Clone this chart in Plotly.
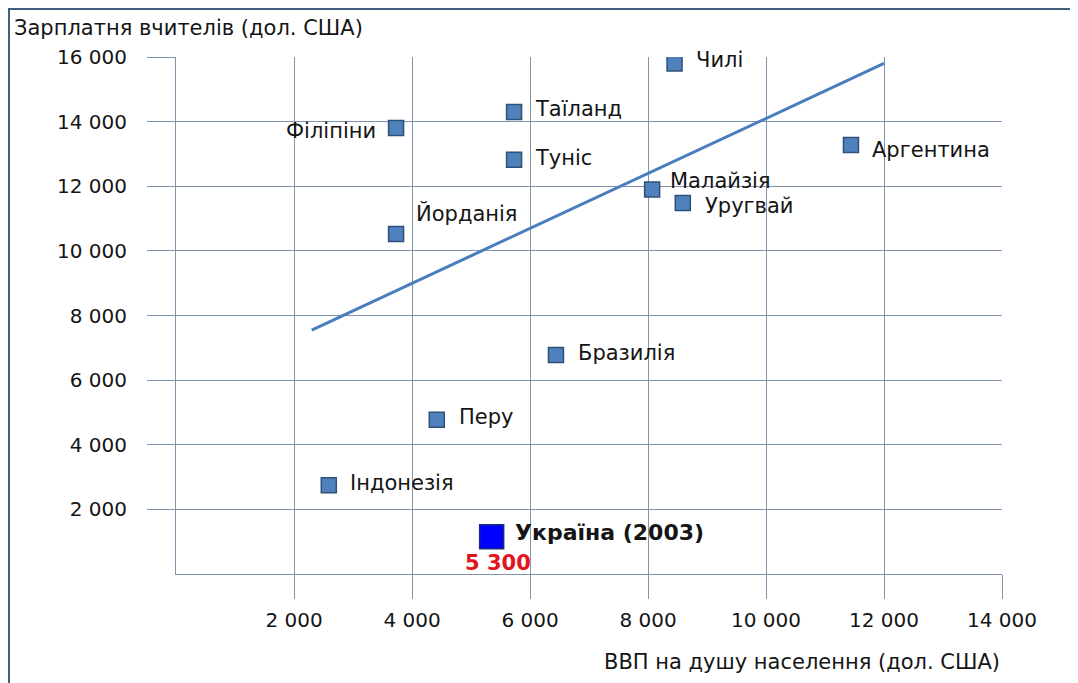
import plotly.graph_objects as go

# ---- data ----
countries = ["Чилі", "Таїланд", "Філіпіни", "Туніс", "Аргентина", "Малайзія",
             "Уругвай", "Йорданія", "Бразилія", "Перу", "Індонезія"]
gdp = [8450, 5730, 3730, 5730, 11440, 8070, 8590, 3730, 6440, 4420, 2590]
salary = [15800, 14300, 13800, 12820, 13280, 11900, 11480, 10520, 6780, 4770, 2750]

ukraine_name = "Україна (2003)"
ukraine_gdp = [5350]
ukraine_salary = [1150]
ukraine_label = "5 300"

trend_x = [2300, 12000]
trend_y = [7550, 15800]

x_ticks = [2000, 4000, 6000, 8000, 10000, 12000, 14000]
y_ticks = [2000, 4000, 6000, 8000, 10000, 12000, 14000, 16000]

x_title = "ВВП на душу населення (дол. США)"
y_title = "Зарплатня вчителів (дол. США)"

# ---- styling (label offsets in px) ----
label_style = {
    "Чилі": (19, 3, "left"),
    "Таїланд": (19, 3, "left"),
    "Філіпіни": (-18, -3, "right"),
    "Туніс": (19, 2, "left"),
    "Аргентина": (19, -5, "left"),
    "Малайзія": (16, 8, "left"),
    "Уругвай": (20, -3, "left"),
    "Йорданія": (18, 21, "left"),
    "Бразилія": (20, 2, "left"),
    "Перу": (20, 3, "left"),
    "Індонезія": (19, 2, "left"),
}

FONT = "DejaVu Sans"
GRID = "#8194ad"
TXT = "#151515"

fig = go.Figure()
fig.add_trace(go.Scatter(x=trend_x, y=trend_y, mode="lines",
                         line=dict(color="#4a7dbd", width=3), hoverinfo="skip"))
fig.add_trace(go.Scatter(x=gdp, y=salary, mode="markers",
                         marker=dict(symbol="square", size=15, color="#4f81bd",
                                     line=dict(color="#2f5077", width=1.5))))
fig.add_trace(go.Scatter(x=ukraine_gdp, y=ukraine_salary, mode="markers",
                         marker=dict(symbol="square", size=24, color="#0000ff",
                                     line=dict(color="#1a2a7a", width=1.5))))

ann = []
for c, gx, sy in zip(countries, gdp, salary):
    dx, dy, anc = label_style[c]
    ann.append(dict(x=gx, y=sy, xref="x", yref="y", text=c, showarrow=False,
                    xanchor=anc, yanchor="middle", xshift=dx, yshift=dy,
                    font=dict(family=FONT, size=21, color=TXT)))
ann.append(dict(x=ukraine_gdp[0], y=ukraine_salary[0], xref="x", yref="y",
                text="<b>" + ukraine_name + "</b>", showarrow=False,
                xanchor="left", yanchor="middle", xshift=21, yshift=4,
                font=dict(family=FONT, size=22, color=TXT)))
ann.append(dict(x=ukraine_gdp[0], y=ukraine_salary[0], xref="x", yref="y",
                text="<b>" + ukraine_label + "</b>", showarrow=False,
                xanchor="center", yanchor="middle", xshift=6, yshift=-26,
                font=dict(family=FONT, size=21, color="#e3141c")))
ann.append(dict(x=-0.198, y=1.056, xref="paper", yref="paper", text=y_title,
                showarrow=False, xanchor="left", yanchor="middle",
                font=dict(family=FONT, size=21, color=TXT)))
ann.append(dict(x=1.0, y=-0.17, xref="paper", yref="paper", text=x_title,
                showarrow=False, xanchor="right", yanchor="middle",
                font=dict(family=FONT, size=21, color=TXT)))

fig.update_layout(
    width=1070, height=675,
    margin=dict(l=168, r=76, t=49, b=109),
    paper_bgcolor="white", plot_bgcolor="white",
    showlegend=False,
    separators=", ",
    annotations=ann,
    shapes=[dict(type="rect", xref="paper", yref="paper",
                 x0=-0.2022, x1=1.12, y0=-0.25, y1=1.0928,
                 line=dict(color="#3f5f80", width=2), fillcolor="rgba(0,0,0,0)",
                 layer="below")],
)
fig.update_xaxes(range=[0, 14000], tickvals=x_ticks, tickformat=",d",
                 showgrid=True, gridcolor=GRID, gridwidth=1,
                 ticks="outside", ticklen=24, tickcolor=GRID, tickwidth=1,
                 showline=True, linecolor=GRID, linewidth=1, zeroline=False,
                 ticklabelstandoff=4,
                 tickfont=dict(family=FONT, size=20, color=TXT))
fig.update_yaxes(range=[0, 16000], tickvals=y_ticks, tickformat=",d",
                 showgrid=True, gridcolor=GRID, gridwidth=1,
                 ticks="outside", ticklen=28, tickcolor=GRID, tickwidth=1,
                 showline=True, linecolor=GRID, linewidth=1, zeroline=False,
                 ticklabelstandoff=16,
                 tickfont=dict(family=FONT, size=20, color=TXT))

fig.write_html("out.html")
